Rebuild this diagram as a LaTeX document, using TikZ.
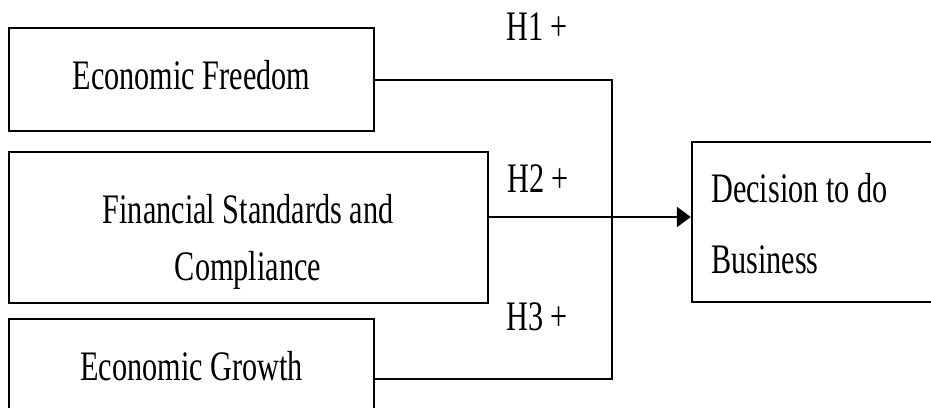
\documentclass[tikz,border=0pt]{standalone}
\usepackage{fontspec}
\setmainfont{Liberation Serif}[FakeStretch=0.72]
\usetikzlibrary{arrows.meta}
\begin{document}
\begin{tikzpicture}[x=1pt,y=-1pt,
  box/.style={draw=black,line width=2.4pt,rectangle,inner sep=0pt,minimum width=#1},
  lbl/.style={anchor=base,inner sep=0pt,font=\fontsize{42}{57}\selectfont},
  conn/.style={draw=black,line width=2pt},
  every node/.style={}]
\useasboundingbox (0,0) rectangle (931,407);
\clip (0,0) rectangle (931,407);
% boxes
\node[box=365pt,minimum height=103pt] (ef) at (191.5,79.5) {};
\node[box=479pt,minimum height=151pt] (fs) at (248.5,227.5) {};
\node[box=365pt,minimum height=120pt] (eg) at (191.5,379) {};
\node[box=258pt,minimum height=160pt] (db) at (821,222) {};
% texts
\node[lbl] (t1) at (191.5,89) {Economic Freedom};
\node[lbl] (t2a) at (248,223) {Financial Standards and};
\node[lbl] (t2b) at (248,280) {Compliance};
\node[lbl] (t3) at (191.5,380) {Economic Growth};
\node[lbl,anchor=base west] (t4a) at (711,202) {Decision to do};
\node[lbl,anchor=base west] (t4b) at (711,273) {Business};
\node[lbl,anchor=base west] (h1) at (506,40) {H1 +};
\node[lbl,anchor=base west] (h2) at (507,192) {H2 +};
\node[lbl,anchor=base west] (h3) at (506,330) {H3 +};
% connectors
\coordinate (vx) at (612,0);
\coordinate (j2) at ([yshift=10.5pt]fs.east);
\coordinate (k2) at (533,217);
\draw[conn] (ef.east) -| (vx |- eg.east) -- (eg.east);
\draw[conn] (j2) -- (k2);
\draw[draw=black,line width=2.8pt,-{Triangle[length=14pt,width=20pt]}] (k2) -- (j2 -| db.west);
\end{tikzpicture}
\end{document}
